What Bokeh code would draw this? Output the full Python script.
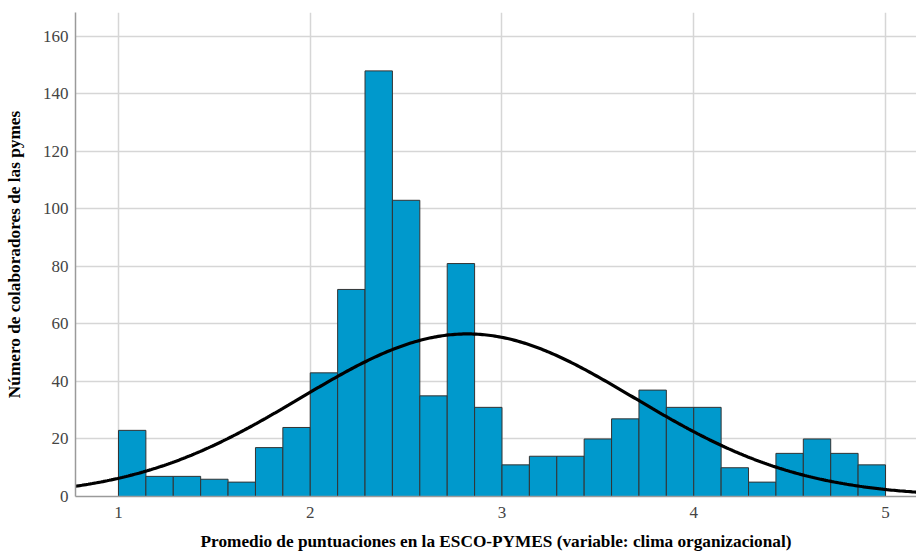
import numpy as np
from bokeh.plotting import figure
from bokeh.models import FixedTicker, Range1d, ColumnDataSource
from bokeh.embed import file_html
from bokeh.resources import INLINE

# Histogram data (28 bins between 1 and 5)
bin_start = 1.0
bin_end = 5.0
counts = [23, 7, 7, 6, 5, 17, 24, 43, 72, 148, 103, 35, 81, 31,
          11, 14, 14, 20, 27, 37, 31, 31, 10, 5, 15, 20, 15, 11]
# Normal curve parameters
curve_mean = 2.82
curve_sd = 0.87
x_ticks = [1, 2, 3, 4, 5]
y_ticks = [0, 20, 40, 60, 80, 100, 120, 140, 160]

x_label = "Promedio de puntuaciones en la ESCO-PYMES (variable: clima organizacional)"
y_label = "Número de colaboradores de las pymes"

edges = np.linspace(bin_start, bin_end, len(counts) + 1)
bw = edges[1] - edges[0]
src = ColumnDataSource(dict(left=edges[:-1], right=edges[1:], top=counts,
                            bottom=[0] * len(counts)))

x0, x1 = 0.7758, 5.1617
p = figure(width=916, height=554, output_backend="svg", toolbar_location=None,
           x_range=Range1d(x0, x1), y_range=Range1d(0, 168.3),
           min_border_left=75, min_border_right=0, min_border_top=12,
           min_border_bottom=58)
p.outline_line_color = None
p.background_fill_color = "white"
p.border_fill_color = "white"

p.quad(left="left", right="right", top="top", bottom="bottom", source=src,
       fill_color="#0099cc", line_color="#333333", line_width=1)

n = sum(counts)
xs = np.linspace(x0, x1, 400)
ys = n * bw / (curve_sd * np.sqrt(2 * np.pi)) * np.exp(-0.5 * ((xs - curve_mean) / curve_sd) ** 2)
p.line(xs, ys, line_color="black", line_width=3.2)

serif = "Liberation Serif"
for ax in (p.xaxis, p.yaxis):
    ax.axis_line_color = "#9a9a9a"
    ax.axis_line_width = 1.5
    ax.major_tick_line_color = None
    ax.minor_tick_line_color = None
    ax.major_tick_out = 0
    ax.major_tick_in = 0
    ax.minor_tick_out = 0
    ax.minor_tick_in = 0
    ax.major_label_text_font = serif
    ax.major_label_text_font_size = "17px"
    ax.major_label_text_color = "#444444"
    ax.axis_label_text_font = serif
    ax.axis_label_text_font_style = "bold"
    ax.axis_label_text_font_size = "17.25px"
    ax.axis_label_text_color = "black"

p.xaxis.ticker = FixedTicker(ticks=x_ticks)
p.yaxis.ticker = FixedTicker(ticks=y_ticks)
p.xaxis.axis_label = x_label
p.yaxis.axis_label = y_label
p.xaxis.major_label_standoff = 10
p.yaxis.major_label_standoff = 7
p.xaxis.axis_label_standoff = 11
p.yaxis.axis_label_standoff = 16

p.xgrid.ticker = FixedTicker(ticks=x_ticks)
p.ygrid.ticker = FixedTicker(ticks=y_ticks)
p.grid.grid_line_color = "#d6d6d6"
p.grid.grid_line_width = 1.5

open("out.html", "w").write(file_html(p, INLINE))
